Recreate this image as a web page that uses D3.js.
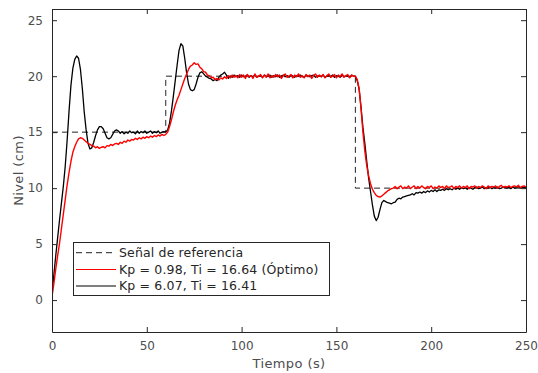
<!DOCTYPE html>
<html><head><meta charset="utf-8">
<script src="https://cdn.jsdelivr.net/npm/d3@7"></script>
<style>body{margin:0;background:#fff}svg{display:block}text{font-family:"DejaVu Sans",sans-serif}</style>
</head><body><svg id="c" width="538" height="373"></svg>
<script>
// ---- data ----
const xTicks = [0, 50, 100, 150, 200, 250];
const yTicks = [0, 5, 10, 15, 20, 25];
const refT = [0, 60, 60, 160, 160, 250];
const refV = [15, 15, 20, 20, 10, 10];
const seriesNames = ["Señal de referencia", "Kp = 0.98, Ti = 16.64 (Óptimo)", "Kp = 6.07, Ti = 16.41"];
// sample time: one value per second, t = 0..250
const blackV = [
0.5,2.3,4.0,5.6,7.2,8.7,10.2,12.0,14.3,16.9,
19.2,20.7,21.5,21.8,21.6,20.6,18.9,16.8,15.2,14.0,
13.5,13.6,14.1,14.7,15.2,15.5,15.5,15.3,14.9,14.5,
14.4,14.5,14.8,15.1,15.2,15.1,14.9,15.05,14.85,15.0,
14.9,15.1,14.95,15.0,14.85,15.1,14.9,15.05,14.95,15.1,
14.9,15.0,15.1,14.9,15.05,14.95,15.1,14.9,15.0,15.05,
15.0,15.2,15.8,16.9,18.2,19.6,21.0,22.3,22.9,22.7,
21.6,20.3,19.3,18.8,18.7,18.8,19.3,19.9,20.3,20.4,
20.2,20.0,19.9,19.8,19.75,19.6,19.7,19.6,19.9,20.1,
20.2,20.35,20.1,19.8,20.0,19.9,20.1,19.95,20.05,19.9,
20.1,19.95,20.0,20.1,19.9,20.05,19.95,20.1,19.9,20.0,
20.05,19.9,20.1,19.95,20.0,20.1,19.9,20.05,19.95,20.1,
19.9,20.0,20.1,19.95,20.05,19.9,20.1,20.0,19.9,20.05,
20.0,20.1,19.95,19.9,20.1,20.0,19.95,20.05,20.1,19.9,
20.0,20.05,19.95,20.1,19.9,20.0,20.05,19.95,20.1,19.9,
20.05,20.0,19.9,20.1,19.95,20.05,20.0,19.9,20.1,20.0,
20.0,19.6,18.8,17.2,15.4,14.0,12.4,10.9,9.7,8.5,
7.5,7.1,7.4,8.1,8.7,8.9,8.8,8.7,8.65,8.6,
8.7,8.75,9.0,9.1,9.05,9.2,9.25,9.3,9.35,9.4,
9.5,9.4,9.6,9.55,9.65,9.55,9.7,9.6,9.75,9.65,
9.8,9.7,9.85,9.7,9.85,9.8,9.9,9.8,9.95,9.85,
9.95,9.85,10.0,9.9,10.0,9.9,10.05,9.95,10.05,9.9,
10.05,10.0,9.9,10.05,10.1,9.95,10.0,10.1,9.95,10.05,
10.0,10.1,9.95,10.05,10.0,10.1,9.95,10.0,10.1,10.05,
10.0,10.1,9.95,10.1,10.0,10.05,10.15,10.0,10.05,10.1,10.05];
const redV = [
0.3,1.5,2.8,4.0,5.1,6.4,7.7,9.0,10.3,11.4,
12.4,13.2,13.7,14.1,14.4,14.5,14.45,14.3,14.15,14.0,
13.9,13.8,13.75,13.6,13.7,13.55,13.65,13.7,13.6,13.8,
13.75,13.9,13.8,13.95,14.0,13.9,14.1,14.0,14.2,14.1,
14.3,14.2,14.35,14.3,14.45,14.35,14.5,14.4,14.55,14.45,
14.6,14.5,14.65,14.55,14.7,14.6,14.75,14.65,14.8,14.7,
14.8,15.0,15.5,16.1,16.8,17.4,17.9,18.3,18.8,19.3,
19.8,20.2,20.6,20.9,21.0,21.2,21.05,21.1,20.8,20.65,
20.4,20.35,20.1,20.05,19.85,19.9,19.7,19.8,19.65,19.85,
19.75,19.95,19.8,20.05,19.85,20.1,19.9,20.05,19.85,20.15,
19.9,20.1,19.8,20.15,19.95,20.05,19.8,20.2,19.9,20.0,
20.15,19.85,20.1,19.9,20.2,19.85,20.05,19.9,20.15,19.95,
20.1,19.8,20.05,20.2,19.9,20.0,20.15,19.85,20.1,19.95,
20.2,19.9,20.05,19.85,20.15,19.95,20.1,19.8,20.05,20.2,
19.9,20.1,19.95,20.15,19.85,20.05,20.2,19.9,20.0,20.15,
19.85,20.1,19.95,20.2,19.9,20.05,20.15,19.85,20.1,20.0,
20.0,19.7,18.9,17.1,15.0,13.3,12.0,11.1,10.4,9.9,
9.6,9.35,9.25,9.2,9.3,9.45,9.6,9.75,9.85,9.95,
10.0,10.15,9.95,10.1,10.2,9.95,10.1,10.0,10.2,9.95,
10.1,10.2,9.95,10.15,10.0,10.2,10.05,9.95,10.15,10.05,
10.2,9.95,10.1,10.0,10.2,10.05,10.15,9.95,10.2,10.05,
10.1,10.2,9.95,10.15,10.05,10.2,10.0,10.15,10.05,10.2,
9.95,10.15,10.1,10.2,10.0,10.15,10.05,10.2,10.1,9.95,
10.2,10.05,10.15,10.1,10.2,10.0,10.15,10.25,10.05,10.15,
10.1,10.2,10.05,10.15,10.2,10.1,10.25,10.05,10.15,10.2,10.1];

// ---- layout ----
const L = 52, R = 526, T = 9, B = 332;
const svg = d3.select("#c");
const x = d3.scaleLinear().domain([0, 250]).range([L, R]);
const y = d3.scaleLinear().domain([-2.85, 26]).range([B, T]);
const axisCol = "#262626", textCol = "#4d4d4d";

const times = d3.range(0, blackV.length);
const line = d3.line().x(d => x(d[0])).y(d => y(d[1]));

const g = svg.append("g");
svg.append("clipPath").attr("id", "clip").append("rect")
  .attr("x", L).attr("y", T).attr("width", R - L).attr("height", B - T);
const plot = g.append("g").attr("clip-path", "url(#clip)");

plot.append("path").datum(refT.map((t, i) => [t, refV[i]]))
  .attr("d", line).attr("fill", "none").attr("stroke", "#222")
  .attr("stroke-width", 1).attr("stroke-dasharray", "6,4");
plot.append("path").datum(times.map((t, i) => [t, blackV[i]]))
  .attr("d", line).attr("fill", "none").attr("stroke", "#000")
  .attr("stroke-width", 1.3).attr("stroke-linejoin", "round");
plot.append("path").datum(times.map((t, i) => [t, redV[i]]))
  .attr("d", line).attr("fill", "none").attr("stroke", "#ff0000")
  .attr("stroke-width", 1.4).attr("stroke-linejoin", "round");

// axes (MATLAB-like box with inward ticks)
const tl = 5;
const ax = g.append("g");
ax.append("g").attr("transform", `translate(0,${B})`)
  .call(d3.axisBottom(x).tickValues(xTicks).tickSizeInner(-tl).tickSizeOuter(0).tickPadding(9));
ax.append("g").attr("transform", `translate(0,${T})`)
  .call(d3.axisTop(x).tickValues(xTicks).tickSizeInner(-tl).tickSizeOuter(0).tickFormat(""));
ax.append("g").attr("transform", `translate(${L},0)`)
  .call(d3.axisLeft(y).tickValues(yTicks).tickSizeInner(-tl).tickSizeOuter(0).tickPadding(9));
ax.append("g").attr("transform", `translate(${R},0)`)
  .call(d3.axisRight(y).tickValues(yTicks).tickSizeInner(-tl).tickSizeOuter(0).tickFormat(""));
ax.selectAll(".domain").attr("stroke", axisCol);
ax.selectAll(".tick line").attr("stroke", axisCol);
ax.selectAll(".tick text").attr("fill", textCol).attr("font-size", 12)
  .attr("font-family", "DejaVu Sans");

svg.append("text").attr("x", (L + R) / 2).attr("y", 368).attr("text-anchor", "middle")
  .attr("font-size", 13).attr("letter-spacing", 0.4).attr("fill", textCol).text("Tiempo (s)");
svg.append("text").attr("transform", `translate(23,${(T + B) / 2}) rotate(-90)`)
  .attr("text-anchor", "middle").attr("font-size", 13).attr("letter-spacing", 0.4)
  .attr("fill", textCol).text("Nivel (cm)");

// legend
const lg = svg.append("g");
lg.append("rect").attr("x", 73.5).attr("y", 242.5).attr("width", 256).attr("height", 53)
  .attr("fill", "#fff").attr("stroke", axisCol).attr("stroke-width", 1);
const rows = [252.7, 269.5, 286];
const styles = [
  {stroke: "#222", dash: "6,4", w: 1},
  {stroke: "#ff0000", dash: null, w: 1.2},
  {stroke: "#000", dash: null, w: 1.1}];
seriesNames.forEach((n, i) => {
  lg.append("line").attr("x1", 76).attr("x2", 116).attr("y1", rows[i]).attr("y2", rows[i])
    .attr("stroke", styles[i].stroke).attr("stroke-width", styles[i].w)
    .attr("stroke-dasharray", styles[i].dash);
  lg.append("text").attr("x", 119).attr("y", rows[i]).attr("dy", "0.35em")
    .attr("font-size", 12.5).attr("letter-spacing", 0.15).attr("fill", "#262626").text(n);
});
</script></body></html>
